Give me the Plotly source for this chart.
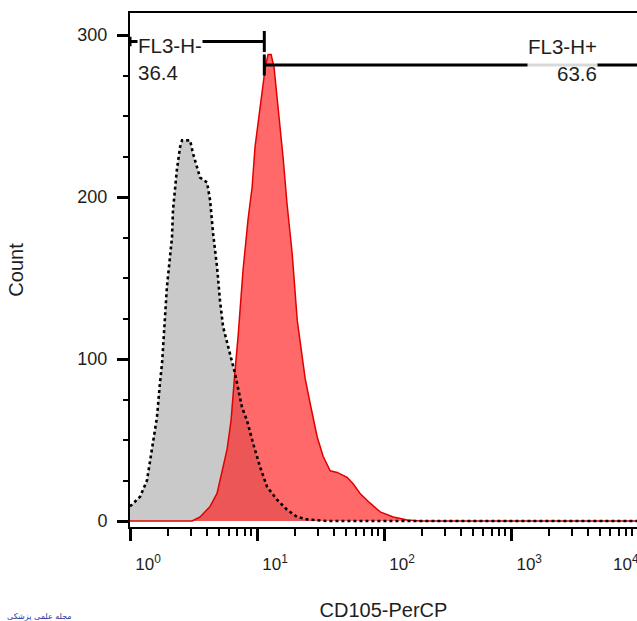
import math
import plotly.graph_objects as go

# ---------------- data ----------------
# Isotype control histogram (grey, dotted outline)
control_x = [1.0, 1.06, 1.2, 1.36, 1.44, 1.52, 1.63, 1.72, 1.79, 1.95, 2.14, 2.18,
             2.34, 2.48, 2.57, 2.97, 3.13, 3.56, 4.04, 4.27, 4.5, 4.84, 5.11, 5.4,
             6.13, 6.71, 7.62, 8.34, 9.3, 10.6, 12.0, 14.4, 17.2, 20.7, 24.8, 35.6,
             100, 1000, 10000]
control_y = [9, 11, 15, 25, 38, 50, 64, 85, 98, 144, 175, 192,
             217, 231, 235, 235, 227, 212, 209, 198, 178, 157, 136, 120,
             104, 91, 70, 62, 48, 33, 21, 13, 7, 2.5, 1, 0,
             0, 0, 0]

# CD105-PerCP stained histogram (red)
cd105_x = [1.0, 3.08, 3.56, 4.27, 4.84, 5.3, 5.8, 6.24, 6.47, 6.71, 7.09, 7.76,
           8.49, 9.14, 9.64, 10.2, 10.9, 11.6, 12.2, 12.9, 13.6, 14.4, 15.2,
           16.0, 17.2, 18.9, 20.7, 23.9, 26.1, 29.7, 33.1, 37.6, 42.7, 51.1,
           57.0, 64.7, 77.6, 93.1, 118, 152, 192, 1000, 10000]
cd105_y = [0, 0, 2.5, 9, 17, 30, 44, 62, 81, 93, 114, 155,
           186, 206, 231, 245, 264, 280, 288, 288, 280, 262, 243,
           225, 196, 165, 124, 88, 73, 52, 40, 31, 30, 27,
           23, 17, 11, 5.6, 2.5, 0.6, 0, 0, 0]

# Gates
gate_names = ["FL3-H-", "FL3-H+"]
gate_pcts = ["36.4", "63.6"]
gate_boundary = 11.4
gate_min = 1.0
gate_max = 10000

# Axis ticks
x_tickvals = [1, 10, 100, 1000]
x_ticktext = ["10<sup>0</sup>", "10<sup>1</sup>", "10<sup>2</sup>", "10<sup>3</sup>"]
x_last_label = "10<sup>4</sup>"
y_tickvals = [0, 100, 200, 300]
y_ticktext = ["0", "100", "200", "300"]

x_title = "CD105-PerCP"
y_title = "Count"
watermark = "مجله علمی پزشکی"

# ---------------- figure ----------------
FONT = "Liberation Sans, Arial, sans-serif"
fig = go.Figure()

# grey fill
fig.add_trace(go.Scatter(x=control_x, y=control_y, mode="lines", fill="tozeroy",
                         fillcolor="rgb(201,201,201)", line=dict(width=0),
                         hoverinfo="skip", showlegend=False))
# red fill + outline
fig.add_trace(go.Scatter(x=cd105_x, y=cd105_y, mode="lines", fill="tozeroy",
                         fillcolor="rgba(255,20,20,0.64)",
                         line=dict(color="rgb(225,0,0)", width=1.5),
                         hoverinfo="skip", showlegend=False))
# dotted outline of control on top
fig.add_trace(go.Scatter(x=control_x, y=control_y, mode="lines",
                         line=dict(color="black", width=2.6, dash="dot"),
                         hoverinfo="skip", showlegend=False))

# gate 1 (negative)
g1y, g2y = 296, 281.5
fig.add_trace(go.Scatter(
    x=[gate_min, gate_boundary, None, gate_boundary, gate_boundary, None, gate_min, gate_min],
    y=[g1y, g1y, None, g1y - 6.5, g1y + 6.5, None, g1y - 3, g1y + 3],
    mode="lines", line=dict(color="black", width=3), hoverinfo="skip", showlegend=False))
# gate 2 (positive)
fig.add_trace(go.Scatter(
    x=[gate_boundary, gate_max, None, gate_boundary, gate_boundary],
    y=[g2y, g2y, None, g2y - 6.5, g2y + 6.5],
    mode="lines", line=dict(color="black", width=3), hoverinfo="skip", showlegend=False))

ann_font = dict(family=FONT, size=20.5, color="rgb(30,30,30)")
fig.add_annotation(x=math.log10(1.13), y=285.5, xref="x", yref="y",
                   text=f"{gate_names[0]}<br>{gate_pcts[0]}", showarrow=False,
                   xanchor="left", yanchor="middle", align="left",
                   bgcolor="white", font=ann_font, borderpad=0)
fig.add_annotation(x=3.68, y=284.5, xref="x", yref="y",
                   text=f"{gate_names[1]}<br>{gate_pcts[1]}", showarrow=False,
                   xanchor="right", yanchor="middle", align="right",
                   bgcolor="rgba(255,255,255,0.85)", font=ann_font, borderpad=0)

# last (partly cut) decade label
fig.add_annotation(x=(611 - 130) / 507, y=(527 - 563) / 514, xref="paper", yref="paper",
                   text=x_last_label, showarrow=False, xanchor="left", yanchor="middle",
                   font=dict(family=FONT, size=17, color="rgb(30,30,30)"))

# watermark
fig.add_annotation(x=(5 - 130) / 507, y=(527 - 616) / 514, xref="paper", yref="paper",
                   text=watermark, showarrow=False, xanchor="left", yanchor="middle",
                   font=dict(family="DejaVu Sans, sans-serif", size=8, color="rgb(40,50,160)"))

fig.update_layout(
    width=637, height=621,
    margin=dict(l=130, r=0, t=13, b=94),
    paper_bgcolor="white", plot_bgcolor="white",
    font=dict(family=FONT, color="rgb(30,30,30)"),
    xaxis=dict(
        type="log", range=[0, 3.99],
        tickmode="array", tickvals=x_tickvals, ticktext=x_ticktext,
        ticks="outside", ticklen=12, tickwidth=3, tickcolor="black",
        tickfont=dict(size=17), ticklabelshift=18, ticklabelstandoff=9,
        minor=dict(dtick="D1", ticks="outside", ticklen=7, tickwidth=1.5,
                   tickcolor="black", showgrid=False),
        showline=True, linecolor="black", linewidth=2, mirror=True,
        showgrid=False, zeroline=False,
        title=dict(text=x_title, font=dict(size=20), standoff=32),
    ),
    yaxis=dict(
        range=[-3.7, 313.6],
        tickmode="array", tickvals=y_tickvals, ticktext=y_ticktext,
        ticks="outside", ticklen=11, tickwidth=3, tickcolor="black",
        tickfont=dict(size=18), ticklabelstandoff=6,
        minor=dict(dtick=25, ticks="outside", ticklen=5, tickwidth=1.5,
                   tickcolor="black", showgrid=False),
        showline=True, linecolor="black", linewidth=2,
        showgrid=False, zeroline=False,
        title=dict(text=y_title, font=dict(size=20), standoff=48),
    ),
)

fig.write_html("out.html", config={"displayModeBar": False},
               post_script="document.body.style.margin='0px';document.body.style.overflow='hidden';")
